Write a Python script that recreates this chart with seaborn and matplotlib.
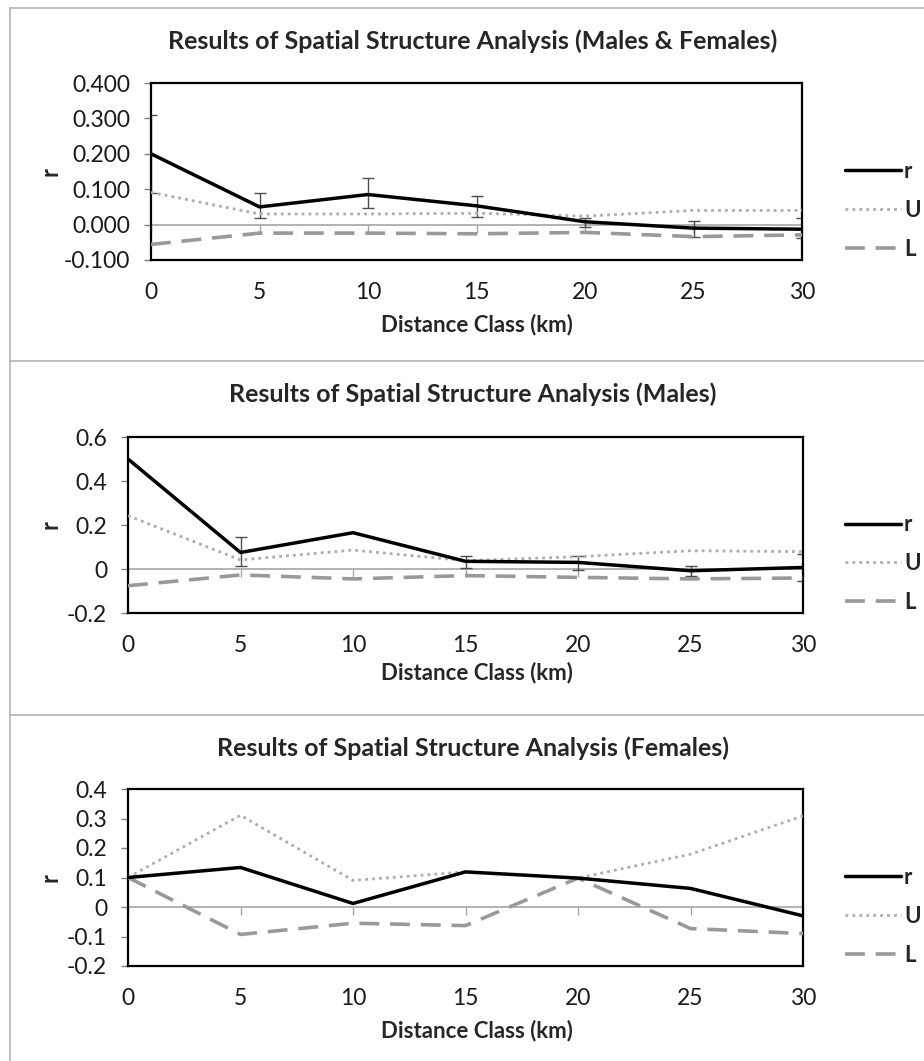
import numpy as np
import pandas as pd
import matplotlib
matplotlib.use("Agg")
import matplotlib.pyplot as plt
from matplotlib.lines import Line2D
import seaborn as sns

# Distance classes (km)
distance = [0, 5, 10, 15, 20, 25, 30]

# Males & Females
mf_r = [0.200, 0.050, 0.085, 0.053, 0.008, -0.010, -0.013]
mf_U = [0.091, 0.030, 0.030, 0.032, 0.024, 0.040, 0.040]
mf_L = [-0.056, -0.024, -0.024, -0.026, -0.022, -0.034, -0.029]
mf_err_lo = [0.090, 0.019, 0.047, 0.021, -0.008, -0.036, -0.039]
mf_err_hi = [0.310, 0.088, 0.131, 0.082, 0.019, 0.011, 0.018]

# Males
m_r = [0.500, 0.075, 0.165, 0.035, 0.030, -0.008, 0.007]
m_U = [0.242, 0.041, 0.086, 0.038, 0.056, 0.083, 0.079]
m_L = [-0.076, -0.027, -0.045, -0.030, -0.038, -0.045, -0.041]
m_err_lo = [np.nan, 0.015, np.nan, 0.005, -0.003, -0.030, -0.055]
m_err_hi = [np.nan, 0.147, np.nan, 0.057, 0.059, 0.014, 0.070]

# Females
f_r = [0.100, 0.134, 0.012, 0.119, 0.098, 0.063, -0.030]
f_U = [0.100, 0.311, 0.090, 0.119, 0.098, 0.179, 0.309]
f_L = [0.100, -0.093, -0.055, -0.063, 0.098, -0.073, -0.090]

titles = [
    "Results of Spatial Structure Analysis (Males & Females)",
    "Results of Spatial Structure Analysis (Males)",
    "Results of Spatial Structure Analysis (Females)",
]
x_label = "Distance Class (km)"
y_label = "r"
series_names = ["r", "U", "L"]

# y tick labels as shown on each chart
mf_yticklabels = ["-0.100", "0.000", "0.100", "0.200", "0.300", "0.400"]
m_yticklabels = ["-0.2", "0", "0.2", "0.4", "0.6"]
f_yticklabels = ["-0.2", "-0.1", "0", "0.1", "0.2", "0.3", "0.4"]

sns.set_style("white")
plt.rcParams["font.family"] = ["Lato", "DejaVu Sans"]

W, H = 924, 1061
fig = plt.figure(figsize=(W / 100, H / 100), dpi=100)


def frac_box(left, top, right, bottom):
    return [left / W, 1 - bottom / H, (right - left) / W, (bottom - top) / H]


panels = [
    dict(box=(151, 83, 802, 260), r=mf_r, U=mf_U, L=mf_L, lo=mf_err_lo, hi=mf_err_hi,
         ylim=(-0.1, 0.4), yticks=[-0.1, 0.0, 0.1, 0.2, 0.3, 0.4],
         ylabels=mf_yticklabels, title_y=41, xlabel_y=325),
    dict(box=(128, 437, 803, 613), r=m_r, U=m_U, L=m_L, lo=m_err_lo, hi=m_err_hi,
         ylim=(-0.2, 0.6), yticks=[-0.2, 0.0, 0.2, 0.4, 0.6],
         ylabels=m_yticklabels, title_y=394, xlabel_y=673),
    dict(box=(128, 789, 803, 966), r=f_r, U=f_U, L=f_L, lo=None, hi=None,
         ylim=(-0.2, 0.4), yticks=[-0.2, -0.1, 0.0, 0.1, 0.2, 0.3, 0.4],
         ylabels=f_yticklabels, title_y=748, xlabel_y=1031),
]

styles = {
    "r": dict(color="black", linewidth=2.5, linestyle="-"),
    "U": dict(color="#adadad", linewidth=2.0, linestyle=(0, (1, 1.5))),
    "L": dict(color="#999999", linewidth=2.6, linestyle=(0, (5.5, 3))),
}

for i, p in enumerate(panels):
    ax = fig.add_axes(frac_box(*p["box"]))
    ymin, ymax = p["ylim"]

    # zero line with category ticks hanging below it
    zero_frac = (0 - ymin) / (ymax - ymin)
    sec = ax.secondary_xaxis(zero_frac)
    sec.set_xticks(distance)
    sec.tick_params(axis="x", direction="out", length=6, width=1, color="#a6a6a6",
                    labelbottom=False, labeltop=False, bottom=True, top=False)
    sec.spines["bottom"].set_color("#a6a6a6")
    sec.spines["bottom"].set_linewidth(1.2)
    sec.spines["top"].set_visible(False)

    if p["lo"] is not None:
        vals = np.array(p["r"])
        lo = vals - np.array(p["lo"])
        hi = np.array(p["hi"]) - vals
        ax.errorbar(distance, vals, yerr=[lo, hi], fmt="none", ecolor="#4d4d4d",
                    elinewidth=1.0, capsize=4, capthick=1.0, zorder=2)

    for name in ["U", "L", "r"]:
        sns.lineplot(x=distance, y=p[name], ax=ax, label=name, zorder=3,
                     **styles[name])

    ax.set_xlim(0, 30)
    ax.set_ylim(ymin, ymax)
    ax.set_xticks(distance)
    ax.set_xticklabels([str(d) for d in distance])
    ax.set_yticks(p["yticks"])
    ax.set_yticklabels(p["ylabels"])
    ax.tick_params(axis="x", length=0, pad=16, labelsize=16.5, colors="#1a1a1a")
    ax.tick_params(axis="y", direction="out", length=5, width=1, color="#808080",
                   pad=10, labelsize=16.5, labelcolor="#1a1a1a", left=True)
    for s in ax.spines.values():
        s.set_color("black")
        s.set_linewidth(1.6)
        s.set_visible(True)
    ax.set_xlabel("")
    ax.set_ylabel("")

    handles = [Line2D([], [], **styles[n]) for n in series_names]
    left, top, right, bottom = p["box"]
    ax.legend(handles, series_names, loc="center left",
              bbox_to_anchor=((845 - left) / (right - left), 0.28),
              frameon=False, borderaxespad=0, borderpad=0, handlelength=2.5,
              handletextpad=0.15, labelspacing=0.8,
              prop=dict(size=16, weight="bold"))

    fig.text(473 / W, 1 - p["title_y"] / H, titles[i],
             ha="center", va="center", fontsize=18, fontweight="bold")
    fig.text(477 / W, 1 - p["xlabel_y"] / H, x_label,
             ha="center", va="center", fontsize=16, fontweight="bold")
    fig.text(50 / W, 1 - ((top + bottom) / 2) / H, y_label, rotation=90,
             ha="center", va="center", fontsize=17, fontweight="bold")

# chart frames
frame_color = "#b5b5b5"
fig.add_artist(Line2D([10 / W, 10 / W], [0, 1 - 8 / H], transform=fig.transFigure,
                      color=frame_color, linewidth=1.2))
for yy in [8, 361, 715]:
    fig.add_artist(Line2D([10 / W, 1], [1 - yy / H, 1 - yy / H], transform=fig.transFigure,
                          color=frame_color, linewidth=1.2))

fig.savefig("out.png", dpi=100, facecolor="white")
